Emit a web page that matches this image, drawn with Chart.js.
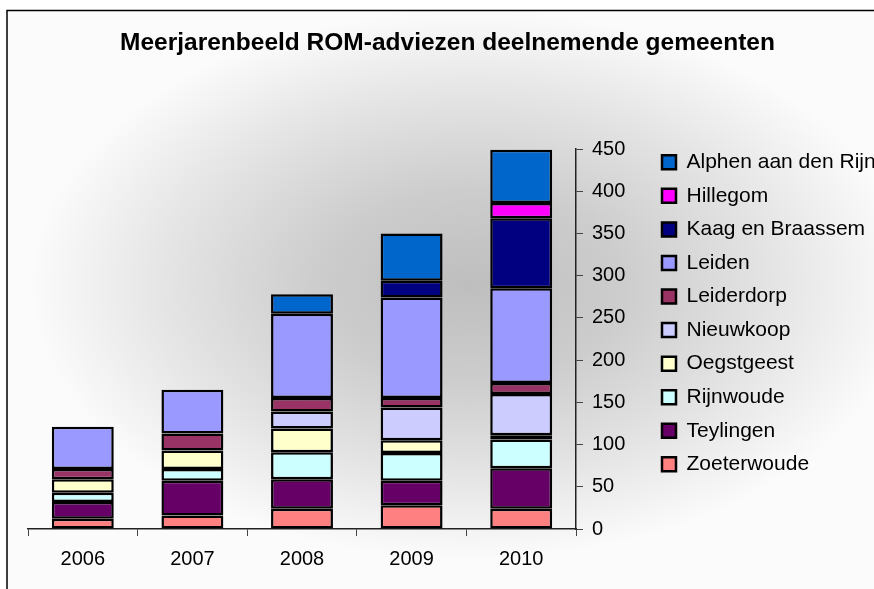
<!DOCTYPE html>
<html><head><meta charset="utf-8">
<script src="https://cdn.jsdelivr.net/npm/chart.js@4/dist/chart.umd.min.js"></script>
<style>html,body{margin:0;padding:0;background:#fff}#wrap{width:874px;height:589px}</style>
</head><body><div id="wrap"><canvas id="c" width="874" height="589"></canvas></div>
<script>
const categories = ['2006','2007','2008','2009','2010'];
const zoeterwoude = [12,16,24,28,24];
const teylingen   = [20,41,35,29,48];
const rijnwoude   = [11,14,32,33,34];
const oegstgeest  = [16,22,28,15,5];
const nieuwkoop   = [null,null,20,39,49];
const leiderdorp  = [12,20,16,11,13];
const leiden      = [50,52,100,119,112];
const kaagEnBraassem = [null,null,null,20,83];
const hillegom    = [null,null,null,null,18];
const alphen      = [null,null,23,56,63];
const yTicks = [0,50,100,150,200,250,300,350,400,450];

const series = [
  ['Zoeterwoude', zoeterwoude, '#FF8080'],
  ['Teylingen', teylingen, '#660066'],
  ['Rijnwoude', rijnwoude, '#CCFFFF'],
  ['Oegstgeest', oegstgeest, '#FFFFCC'],
  ['Nieuwkoop', nieuwkoop, '#CCCCFF'],
  ['Leiderdorp', leiderdorp, '#993366'],
  ['Leiden', leiden, '#9999FF'],
  ['Kaag en Braassem', kaagEnBraassem, '#000080'],
  ['Hillegom', hillegom, '#FF00FF'],
  ['Alphen aan den Rijn', alphen, '#0066CC']
];

const PLOT_RIGHT = 576;
const LEG_PAD = 12.56;
const LEG_FONT = 21;

const bgPlugin = {
  id: 'bg',
  beforeDraw(chart) {
    const ctx = chart.ctx;
    ctx.save();
    ctx.fillStyle = '#fff';
    ctx.fillRect(0, 0, chart.width, chart.height);
    ctx.save();
    const cx = 470, cy = 285, rx = 440, ry = 275;
    ctx.translate(cx, cy);
    ctx.scale(1, ry / rx);
    const g = ctx.createRadialGradient(0, 0, 0, 0, 0, rx);
    g.addColorStop(0, '#bebebe');
    g.addColorStop(0.35, '#cdcdcd');
    g.addColorStop(0.7, '#e5e5e5');
    g.addColorStop(1, '#fbfbfb');
    ctx.fillStyle = g;
    ctx.fillRect(-cx, -cy * rx / ry, 874, 589 * rx / ry);
    ctx.restore();
    ctx.fillStyle = '#fff';
    ctx.fillRect(0, 0, 7, chart.height);
    ctx.fillRect(0, 0, chart.width, 10);
    ctx.strokeStyle = '#000';
    ctx.lineWidth = 1.5;
    ctx.beginPath();
    ctx.moveTo(7, chart.height);
    ctx.lineTo(7, 10.5);
    ctx.lineTo(chart.width, 10.5);
    ctx.stroke();
    ctx.restore();
  },
  afterLayout(chart) {
    const lg = chart.legend;
    const top = 162.3 - LEG_PAD - LEG_FONT / 2;
    lg.top = top;
    lg.bottom = top + 1000;
    lg.left = 662 - LEG_PAD;
    lg.right = chart.width + 60;
    lg.width = lg.right - lg.left;
  }
};

new Chart(document.getElementById('c'), {
  type: 'bar',
  data: {
    labels: categories,
    datasets: series.map(s => ({
      label: s[0], data: s[1], backgroundColor: s[2],
      borderColor: '#000', borderWidth: 2.5, borderSkipped: false,
      barPercentage: 0.565, categoryPercentage: 1
    }))
  },
  options: {
    responsive: false,
    animation: false,
    layout: { padding: { left: 21, right: 0, top: 0, bottom: 7 } },
    plugins: {
      title: {
        display: true,
        text: 'Meerjarenbeeld ROM-adviezen deelnemende gemeenten',
        color: '#000',
        font: { family: 'Liberation Sans, Arial', size: 24.5, weight: 'bold' },
        padding: { top: 29, bottom: 90.6 }
      },
      legend: {
        position: 'right',
        align: 'start',
        reverse: true,
        labels: {
          color: '#000',
          font: { family: 'Liberation Sans, Arial', size: LEG_FONT },
          boxWidth: 14, boxHeight: 14, padding: LEG_PAD
        }
      },
      tooltip: { enabled: false }
    },
    scales: {
      x: {
        stacked: true,
        offset: true,
        grid: { offset: true, drawOnChartArea: false, color: '#444', tickLength: 7 },
        border: { color: '#222', width: 1.5 },
        ticks: { color: '#000', font: { family: 'Liberation Sans, Arial', size: 20 }, padding: 11 }
      },
      y: {
        stacked: true,
        position: 'right',
        min: 0, max: 450,
        afterBuildTicks(scale) { scale.ticks = yTicks.map(v => ({ value: v })); },
        afterFit(scale) { scale.width = 874 - PLOT_RIGHT - scale.chart.legend.width; },
        grid: { drawOnChartArea: false, color: '#444', tickLength: 7 },
        border: { color: '#222', width: 1.5 },
        ticks: { color: '#000', font: { family: 'Liberation Sans, Arial', size: 20 }, padding: 9 }
      },
      spacer: {
        type: 'linear',
        position: 'left',
        display: true,
        afterFit(scale) { scale.width = 7; },
        grid: { display: false, drawTicks: false },
        border: { display: false },
        ticks: { display: false }
      }
    }
  },
  plugins: [bgPlugin]
});
</script></body></html>
